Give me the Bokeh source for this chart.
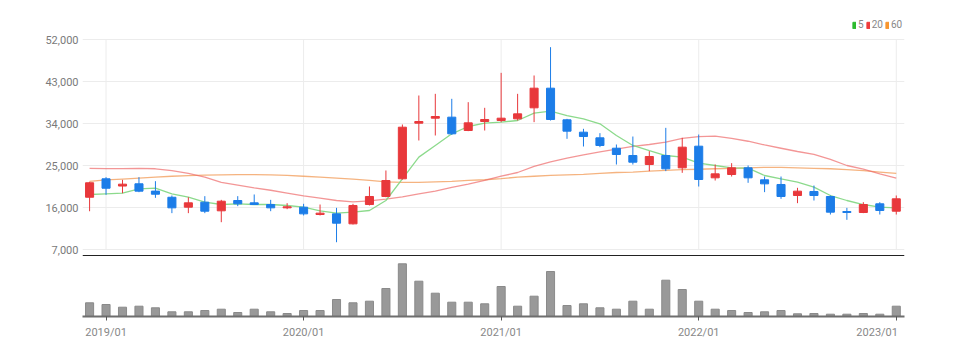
import numpy as np
from bokeh.plotting import figure
from bokeh.layouts import column
from bokeh.models import (ColumnDataSource, FixedTicker, NumeralTickFormatter, Range1d,
                          Span, Legend, LegendItem)
from bokeh.embed import file_html
from bokeh.resources import INLINE

# ---------------- data ----------------
months = ["2018/12",
          "2019/01", "2019/02", "2019/03", "2019/04", "2019/05", "2019/06",
          "2019/07", "2019/08", "2019/09", "2019/10", "2019/11", "2019/12",
          "2020/01", "2020/02", "2020/03", "2020/04", "2020/05", "2020/06",
          "2020/07", "2020/08", "2020/09", "2020/10", "2020/11", "2020/12",
          "2021/01", "2021/02", "2021/03", "2021/04", "2021/05", "2021/06",
          "2021/07", "2021/08", "2021/09", "2021/10", "2021/11", "2021/12",
          "2022/01", "2022/02", "2022/03", "2022/04", "2022/05", "2022/06",
          "2022/07", "2022/08", "2022/09", "2022/10", "2022/11", "2022/12",
          "2023/01"]

opens = [18200, 22150, 20600, 21080, 19510, 18200, 16070, 17140, 15290, 17500,
         17000, 16640, 15930, 16070, 14500, 14640, 12500, 16640, 18360, 22150,
         34070, 35140, 35360, 32500, 34430, 34640, 35000, 37360, 41570, 34790,
         32140, 30930, 28710, 27140, 25210, 27140, 24500, 29140, 22360, 23070,
         24500, 21930, 20930, 18570, 19430, 18360, 15140, 14930, 16790, 15210]
highs = [21500, 22500, 21930, 22500, 21640, 18570, 18200, 18430, 17640, 18430,
         18790, 17640, 16930, 16790, 16640, 15930, 16790, 20500, 23930, 33790,
         40000, 40360, 39290, 38570, 37360, 44860, 40360, 44290, 50360, 35000,
         32860, 31930, 29500, 31210, 28070, 33070, 30930, 31640, 25210, 25500,
         25000, 22640, 22640, 20220, 20710, 18570, 15930, 17140, 17140, 18570]
lows = [15200, 18720, 19060, 19280, 18070, 14790, 14790, 14790, 12850, 16290,
        16640, 15210, 15640, 14290, 14290, 8560, 12360, 16430, 18200, 22000,
        30360, 31430, 31570, 32360, 32500, 34290, 34640, 34290, 34640, 30720,
        29070, 28930, 25210, 25210, 23790, 23790, 23430, 20500, 21780, 22640,
        21290, 19290, 17860, 16930, 17500, 14500, 13360, 14790, 14500, 14500]
closes = [21300, 20130, 21000, 19500, 18850, 15930, 17000, 15210, 17350, 16790,
          16640, 15930, 16150, 14640, 14790, 12640, 16430, 18360, 21780, 33210,
          34430, 35500, 31790, 34140, 34860, 35140, 36070, 41570, 34860, 32360,
          31210, 29290, 27360, 25710, 26930, 24290, 28930, 22000, 23210, 24500,
          22360, 21070, 18360, 19500, 18570, 15000, 14930, 16640, 15360, 17860]

ma5 = [18790, 18930, 19070, 20000, 20140, 18930, 18210, 17140, 16640, 16790,
       16640, 16640, 16430, 16070, 15300, 14790, 15000, 15360, 17500, 22150,
       26790, 29290, 31790, 33360, 34070, 34290, 34640, 36210, 36640, 35710,
       35000, 33930, 31430, 29290, 28210, 27140, 26790, 25500, 25000, 24500,
       24430, 22860, 22140, 21430, 20360, 18570, 17500, 16640, 16070, 15930]
ma20 = [24400, 24350, 24350, 24400, 24300, 23900, 23300, 22500, 21400, 20800,
        20200, 19700, 19100, 18500, 18000, 17500, 17200, 17400, 17800, 18300,
        18900, 19500, 20300, 21000, 21800, 22700, 23500, 24800, 25800, 26600,
        27300, 27900, 28500, 29100, 29500, 30000, 30800, 31200, 31300, 30800,
        30200, 29400, 28700, 28000, 27400, 26300, 25000, 24200, 23200, 22300]
ma60 = [21600, 21900, 22100, 22300, 22500, 22700, 22850, 22950, 23000, 23050,
        23050, 23000, 22900, 22700, 22500, 22300, 22100, 21800, 21500, 21400,
        21400, 21500, 21600, 21800, 21950, 22200, 22500, 22700, 22900, 23000,
        23100, 23300, 23500, 23600, 23800, 23950, 24100, 24200, 24300, 24400,
        24500, 24600, 24600, 24500, 24400, 24300, 24100, 23900, 23600, 23300]

volumes = [1370, 1200, 930, 1030, 870, 470, 470, 600, 730, 400,
           730, 470, 300, 600, 600, 1700, 1370, 1530, 2800, 5270,
           3530, 2330, 1430, 1430, 1270, 3000, 1030, 2030, 4500, 1100,
           1270, 870, 730, 1530, 730, 3630, 2700, 1530, 730, 600,
           400, 470, 600, 270, 300, 230, 230, 300, 230, 1030]

price_ticks = [7000, 16000, 25000, 34000, 43000, 52000]
tick_labels = ["2019/01", "2020/01", "2021/01", "2022/01", "2023/01"]
ma_names = ["5", "20", "60"]

# ---------------- styles ----------------
UP = "#e8383b"
DOWN = "#1c7de8"
GRID = "#ececec"
FONT = "Liberation Sans Narrow, Roboto, sans-serif"

xs = list(range(len(months)))
tick_pos = [months.index(t) for t in tick_labels]
colors = [UP if c >= o else DOWN for o, c in zip(opens, closes)]

src = ColumnDataSource(dict(
    x=xs, open=opens, high=highs, low=lows, close=closes,
    top=[max(o, c) for o, c in zip(opens, closes)],
    bottom=[min(o, c) for o, c in zip(opens, closes)],
    color=colors, vol=volumes, ma5=ma5, ma20=ma20, ma60=ma60))

xr = Range1d(-0.43, 49.5)

# ---------------- price panel ----------------
p = figure(width=959, height=256, x_range=xr, y_range=Range1d(5500, 60360),
           output_backend="svg", toolbar_location=None,
           min_border_left=82, min_border_right=55, min_border_top=0,
           min_border_bottom=0)
p.xaxis.visible = False
p.outline_line_color = None
p.xgrid.grid_line_color = None
p.ygrid.ticker = FixedTicker(ticks=price_ticks)
p.ygrid.grid_line_color = GRID
p.yaxis.ticker = FixedTicker(ticks=price_ticks)
p.yaxis.formatter = NumeralTickFormatter(format="0,0")
p.yaxis.axis_line_color = None
p.yaxis.major_tick_line_color = None
p.yaxis.minor_tick_line_color = None
p.yaxis.major_tick_out = 0
p.yaxis.major_tick_in = 0
p.yaxis.major_label_standoff = 4
p.yaxis.major_label_text_color = "#7a7a7a"
p.yaxis.major_label_text_font = FONT
p.yaxis.major_label_text_font_size = "11px"

# vertical grid lines limited to the tick span
p.segment(x0=tick_pos, y0=[price_ticks[0]] * len(tick_pos),
          x1=tick_pos, y1=[price_ticks[-1]] * len(tick_pos),
          line_color=GRID, line_width=1)

p.line("x", "ma60", source=src, line_color="#f3a060", line_alpha=0.8, line_width=1.3)
p.line("x", "ma20", source=src, line_color="#ee6a6a", line_alpha=0.7, line_width=1.3)
p.line("x", "ma5", source=src, line_color="#7fd67f", line_alpha=0.9, line_width=1.3)

p.segment("x", "high", "x", "low", source=src, line_color="color", line_width=1)
p.vbar(x="x", top="top", bottom="bottom", width=0.49, source=src,
       fill_color="color", line_color="color", line_width=1)

p.add_layout(Span(location=5620, dimension="width", line_color="#222222", line_width=2))

# legend swatches (proxy renderers that draw nothing in the plot)
proxy = ColumnDataSource(dict(x=np.array([np.nan]), top=np.array([np.nan])))
lg = []
for name, col in zip(ma_names, ["#2dbb2d", "#ee3b3b", "#f7962f"]):
    r = p.vbar(x="x", top="top", width=0.5, source=proxy, fill_color=col, line_color=col)
    lg.append(LegendItem(label=name, renderers=[r]))
legend = Legend(items=lg, orientation="horizontal", location=(770, 226),
                padding=0, margin=0, spacing=2, glyph_width=4, glyph_height=8,
                label_standoff=2, label_height=10, label_width=4,
                label_text_font=FONT, label_text_font_size="10px",
                label_text_color="#888888", border_line_color=None,
                background_fill_alpha=0)
p.add_layout(legend, "center")

# ---------------- volume panel ----------------
v = figure(width=959, height=99, x_range=xr, y_range=Range1d(0, 6000),
           output_backend="svg", toolbar_location=None,
           min_border_left=82, min_border_right=55, min_border_top=0,
           min_border_bottom=39)
v.outline_line_color = None
v.yaxis.visible = False
v.xgrid.grid_line_color = None
v.ygrid.grid_line_color = None
v.vbar(x="x", top="vol", width=0.49, source=src, fill_color="#999999",
       line_color="#8a8a8a")
v.xaxis.ticker = FixedTicker(ticks=tick_pos)
overrides = {pos: lab for pos, lab in zip(tick_pos, tick_labels)}
# last label is kept inside the chart (right edge at its tick), as in the reference
overrides[tick_pos[-1]] = tick_labels[-1] + "\u00a0" * 14
v.xaxis.major_label_overrides = overrides
v.xaxis.axis_line_color = "#6e6e6e"
v.xaxis.axis_line_width = 2
v.xaxis.major_tick_line_color = "#555555"
v.xaxis.major_tick_out = 4
v.xaxis.major_tick_in = 0
v.xaxis.minor_tick_line_color = None
v.xaxis.major_label_standoff = 5
v.xaxis.major_label_text_color = "#888888"
v.xaxis.major_label_text_font = FONT
v.xaxis.major_label_text_font_size = "11px"

layout = column(p, v, spacing=0)
open("out.html", "w").write(file_html(layout, INLINE))
